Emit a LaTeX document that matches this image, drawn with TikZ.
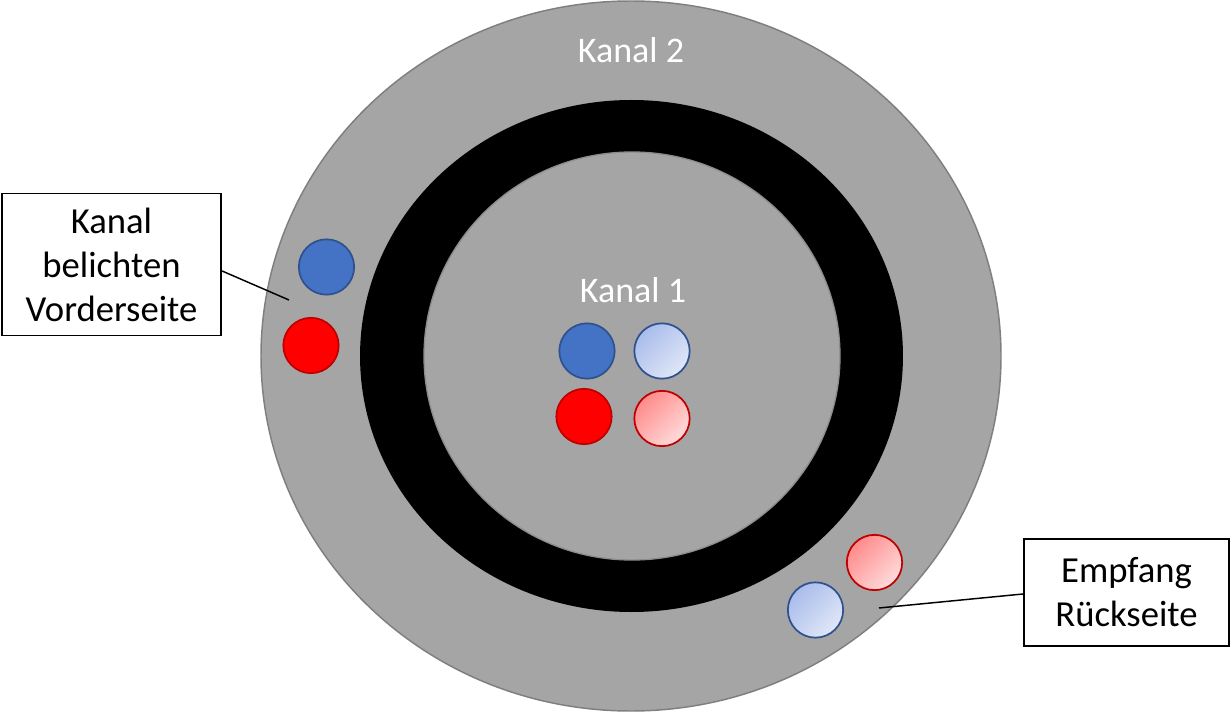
\documentclass[tikz,border=0pt]{standalone}
\usepackage{fontspec}
\setmainfont{Carlito}
\usetikzlibrary{calc}
\definecolor{discgray}{HTML}{A5A5A5}
\definecolor{discedge}{HTML}{7F7F7F}
\definecolor{coreedge}{HTML}{8C8C8C}
\definecolor{bluefill}{HTML}{4472C4}
\definecolor{blueedge}{HTML}{2F528F}
\definecolor{redfill}{HTML}{FF0000}
\definecolor{rededge}{HTML}{C00000}
\definecolor{paleblueA}{HTML}{A9BCEB}
\definecolor{paleblueB}{HTML}{E0E7F7}
\definecolor{paleredA}{HTML}{FF8A8A}
\definecolor{paleredB}{HTML}{FFDCDC}
\tikzset{
  fiber/.style={circle, minimum size=41.5pt, inner sep=0pt, line width=1.3pt},
  fiberblue/.style={fiber, draw=blueedge, fill=bluefill},
  fiberred/.style={fiber, draw=rededge, fill=redfill},
  fiberbluepale/.style={fiber, draw=blueedge, top color=paleblueA,
    bottom color=paleblueB, shading angle=45},
  fiberredpale/.style={fiber, draw=rededge, top color=paleredA,
    bottom color=paleredB, shading angle=45},
  ringlabel/.style={text=white, inner sep=0pt, font=\fontsize{27}{33}\selectfont},
  callout/.style={rectangle, draw=black, line width=1.4pt, fill=white,
    align=center, inner sep=0pt, font=\fontsize{27.5}{33}\selectfont},
  leader/.style={black, line width=1.1pt}
}

\begin{document}
\begin{tikzpicture}[x=0.75pt, y=-0.75pt]
\useasboundingbox (0,0) rectangle (1232,713);

% ── Disc: outer channel, black ring, inner channel ──────────────────────────
\draw[fill=discgray, draw=discedge, line width=1.1pt]
  (631,356) ellipse [x radius=277.5pt, y radius=266.25pt];
\fill[black] (631.5,356) ellipse [x radius=203.6pt, y radius=192pt];
\draw[fill=discgray, draw=coreedge, line width=1pt]
  (632,356) ellipse [x radius=156pt, y radius=153pt];

% ── Channel labels ───────────────────────────────────────────────────────────
\node[ringlabel] (ch2) at (631,50) {Kanal 2};
\node[ringlabel] (ch1) at (633,290) {Kanal 1};

% ── Fibres in the inner channel ──────────────────────────────────────────────
\node[fiberblue]     (c1b)  at (587,351) {};
\node[fiberbluepale] (c1bp) at (662,351) {};
\node[fiberred]      (c1r)  at (584,416.5) {};
\node[fiberredpale]  (c1rp) at (662,418.5) {};

% ── Fibres in the outer channel ──────────────────────────────────────────────
\node[fiberblue]     (fb) at (326.5,267) {};
\node[fiberred]      (fr) at (311,345.5) {};
\node[fiberredpale]  (bp) at (874.5,562.5) {};
\node[fiberbluepale] (bb) at (815.5,610) {};

% ── Callouts ─────────────────────────────────────────────────────────────────
\node[callout, minimum width=164.5pt, minimum height=106.5pt] (front)
  at (111.5,264.5) {Kanal\\belichten\\Vorderseite};
\coordinate (frontpt) at (289,300);
\draw[leader] ($(front.east)+(0,6.5)$) -- (frontpt);

\node[callout, minimum width=154pt, minimum height=80pt] (back)
  at (1126.5,592.5) {Empfang\\Rückseite};
\coordinate (backpt) at (879,608);
\draw[leader] ($(back.west)+(0,1.5)$) -- (backpt);

\end{tikzpicture}
\end{document}
